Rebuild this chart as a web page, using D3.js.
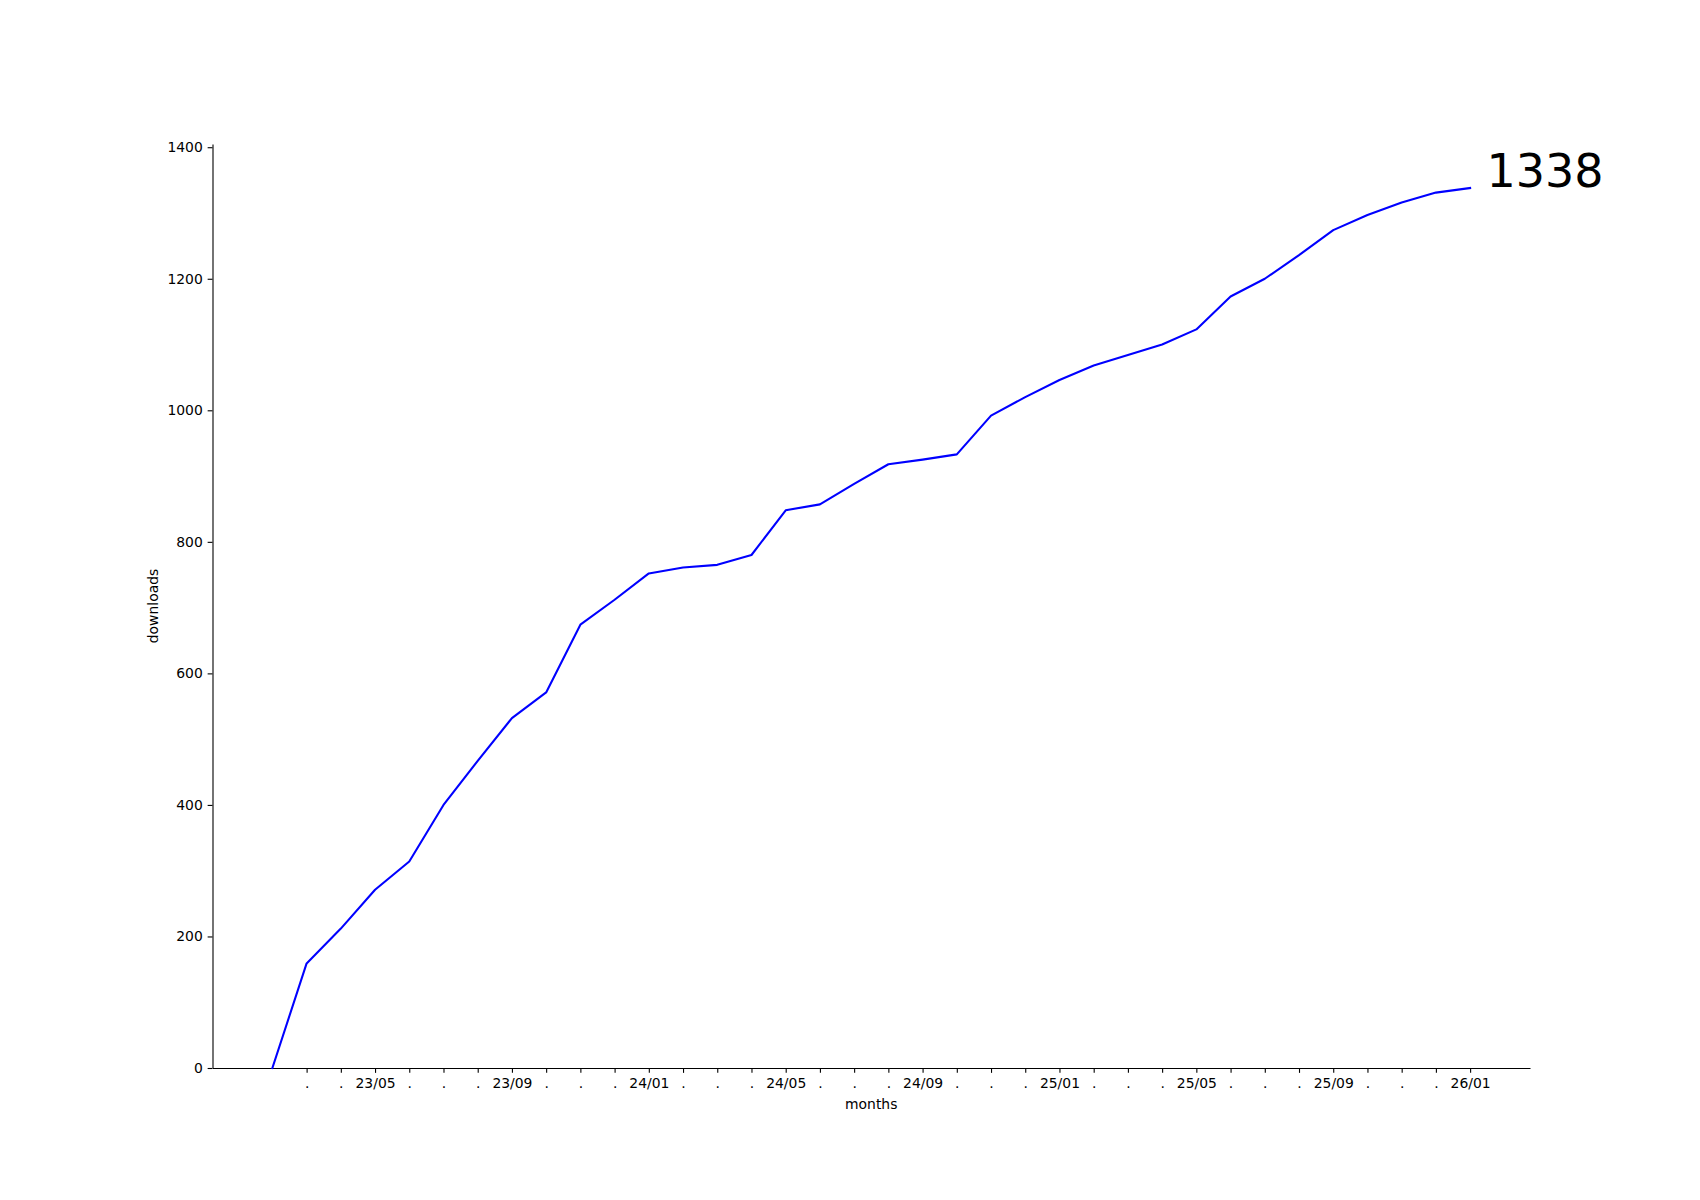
<!DOCTYPE html>
<html>
<head>
<meta charset="utf-8">
<script src="https://cdn.jsdelivr.net/npm/d3@7"></script>
<style>
  html, body { margin: 0; padding: 0; background: #fff; }
  svg { display: block; font-family: "DejaVu Sans", sans-serif; }
</style>
</head>
<body>
<svg id="chart" width="1700" height="1200"></svg>
<script>
// ---- data ----
const months = ["23/02","23/03","23/04","23/05","23/06","23/07","23/08","23/09","23/10","23/11","23/12",
  "24/01","24/02","24/03","24/04","24/05","24/06","24/07","24/08","24/09","24/10","24/11","24/12",
  "25/01","25/02","25/03","25/04","25/05","25/06","25/07","25/08","25/09","25/10","25/11","25/12","26/01"];
const downloads = [0,159,212,271,314,400,467,532,571,674,712,752,761,765,780,848,857,888,918,925,933,992,
  1020,1046,1068,1084,1100,1123,1173,1200,1236,1274,1297,1316,1331,1338];
const yTicks = [0,200,400,600,800,1000,1200,1400];
const finalLabel = "1338";

(function () {
// ---- layout ----
const mLeft = 212.5, mRight = 1530, mTop = 144, mBottom = 1068;
const svg = d3.select("#chart");

const n = downloads.length;
const xPad = (n - 1) * 0.05;
const x = d3.scaleLinear().domain([-xPad, n - 1 + xPad]).range([mLeft, mRight]);
const yMax = d3.max(downloads) * 1.05;
const y = d3.scaleLinear().domain([0, yMax]).range([mBottom, mTop]);

// x axis
const xTickIdx = d3.range(1, n);
const xAxis = d3.axisBottom(x)
  .tickValues(xTickIdx)
  .tickFormat(i => ((i - 3) % 4 === 0 ? months[i] : "."))
  .tickSizeOuter(0)
  .tickSizeInner(4.86)
  .tickPadding(4.86);
const gx = svg.append("g").attr("transform", `translate(0,${mBottom})`).call(xAxis);
gx.select(".domain").attr("stroke", "#000").attr("stroke-width", 1.1);
gx.selectAll(".tick line").attr("stroke", "#000").attr("stroke-width", 1.1);
gx.selectAll(".tick text").attr("font-size", 13.9).attr("fill", "#000")
  .attr("font-family", "DejaVu Sans");

// y axis
const yAxis = d3.axisLeft(y)
  .tickValues(yTicks)
  .tickFormat(d3.format("d"))
  .tickSizeOuter(0)
  .tickSizeInner(4.86)
  .tickPadding(4.86);
const gy = svg.append("g").attr("transform", `translate(${mLeft},0)`).call(yAxis);
gy.select(".domain").attr("stroke", "#000").attr("stroke-width", 1.1);
gy.selectAll(".tick line").attr("stroke", "#000").attr("stroke-width", 1.1);
gy.selectAll(".tick text").attr("font-size", 13.9).attr("fill", "#000")
  .attr("font-family", "DejaVu Sans");

// axis labels
svg.append("text")
  .attr("x", (mLeft + mRight) / 2).attr("y", 1109)
  .attr("text-anchor", "middle").attr("font-size", 13.9).attr("fill", "#000")
  .text("months");
svg.append("text")
  .attr("transform", `translate(158,${(mTop + mBottom) / 2}) rotate(-90)`)
  .attr("text-anchor", "middle").attr("font-size", 13.9).attr("fill", "#000")
  .text("downloads");

// line
const line = d3.line().x((d, i) => x(i)).y(d => y(d));
svg.append("path")
  .datum(downloads)
  .attr("fill", "none")
  .attr("stroke", "#0000ff")
  .attr("stroke-width", 2.08)
  .attr("stroke-linejoin", "round")
  .attr("stroke-linecap", "square")
  .attr("d", line);

// final value annotation
svg.append("text")
  .attr("x", x(n - 1 + 0.48)).attr("y", y(downloads[n - 1]) - 1)
  .attr("font-size", 46).attr("fill", "#000")
  .text(finalLabel);
})();
</script>
</body>
</html>
